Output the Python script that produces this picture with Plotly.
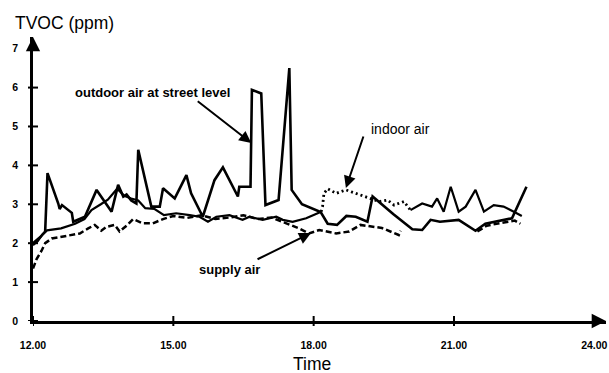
import plotly.graph_objects as go

# ---------------- data ----------------
outdoor_time = [12.00, 12.15, 12.26, 12.31, 12.54, 12.57, 12.62, 12.83, 12.86, 13.11,
                13.36, 13.68, 13.82, 13.93, 14.00, 14.10, 14.21, 14.25, 14.53, 14.71,
                14.78, 15.03, 15.28, 15.38, 15.63, 15.88, 16.06, 16.38, 16.41, 16.65,
                16.68, 16.88, 16.97, 17.25, 17.48, 17.53, 17.75, 18.15, 18.30, 18.50,
                18.70, 18.90, 19.15, 19.26, 19.70, 20.11, 20.32, 20.50, 20.70, 21.10,
                21.46, 21.67, 22.24, 22.55]
outdoor_tvoc = [2.00, 2.15, 2.30, 3.80, 3.02, 2.88, 2.98, 2.78, 2.55, 2.68,
                3.37, 2.81, 3.50, 3.20, 3.25, 3.10, 3.02, 4.40, 2.94, 2.94,
                3.41, 3.15, 3.75, 3.28, 2.68, 3.62, 3.95, 3.20, 3.45, 3.45,
                5.94, 5.85, 2.98, 3.11, 6.50, 3.37, 3.00, 2.80, 2.50, 2.47,
                2.70, 2.68, 2.55, 3.20, 2.75, 2.36, 2.34, 2.60, 2.55, 2.60,
                2.32, 2.50, 2.64, 3.45]

indoor_time = [12.00, 12.10, 12.20, 12.30, 12.60, 12.90, 13.10, 13.25, 13.45, 13.60,
               13.80, 13.95, 14.10, 14.25, 14.40, 14.60, 14.80, 15.06, 15.35, 15.56,
               15.74, 15.92, 16.20, 16.48, 16.63, 16.91, 17.20, 17.34, 17.55, 17.84,
               18.16, 18.19, 18.22, 18.30, 18.48, 18.69, 18.90, 19.22, 19.40, 19.58,
               19.72, 19.93, 20.07, 20.32, 20.53, 20.64, 20.78, 20.93, 21.10, 21.25,
               21.46, 21.64, 21.85, 22.06, 22.28, 22.45]
indoor_tvoc = [1.95, 2.05, 2.22, 2.33, 2.38, 2.50, 2.62, 2.85, 3.00, 3.12,
               3.40, 3.22, 3.15, 3.10, 2.90, 2.88, 2.72, 2.77, 2.72, 2.68,
               2.55, 2.68, 2.72, 2.60, 2.68, 2.60, 2.68, 2.60, 2.55, 2.64,
               2.81, 2.94, 3.28, 3.40, 3.28, 3.37, 3.28, 3.15, 3.07, 3.11,
               2.98, 3.07, 2.85, 3.02, 2.94, 3.15, 2.81, 3.45, 2.81, 2.94,
               3.37, 2.81, 2.98, 2.94, 2.81, 2.70]
indoor_dotted_from = 18.16
indoor_dotted_to = 20.07

supply_time = [12.00, 12.08, 12.18, 12.26, 12.40, 12.65, 12.82, 13.00, 13.18, 13.32,
               13.46, 13.57, 13.75, 13.85, 14.00, 14.14, 14.35, 14.56, 14.78, 15.00,
               15.30, 15.60, 15.90, 16.20, 16.50, 16.80, 17.10, 17.34, 17.69, 17.90,
               18.12, 18.48, 18.76, 19.00, 19.22, 19.46, 19.82, 19.86, None,
               21.50, 21.70, 22.00, 22.30, 22.42]
supply_tvoc = [1.35, 1.60, 1.80, 2.00, 2.12, 2.17, 2.21, 2.25, 2.38, 2.47,
               2.32, 2.42, 2.47, 2.30, 2.45, 2.62, 2.51, 2.51, 2.62, 2.70,
               2.65, 2.72, 2.62, 2.66, 2.72, 2.62, 2.66, 2.55, 2.38, 2.25,
               2.34, 2.25, 2.30, 2.47, 2.43, 2.39, 2.21, 2.32, None,
               2.30, 2.45, 2.52, 2.58, 2.50]

x_ticks = [12, 15, 18, 21, 24]
x_tick_labels = ["12.00", "15.00", "18.00", "21.00", "24.00"]
y_ticks = [0, 1, 2, 3, 4, 5, 6, 7]

# ---------------- layout geometry ----------------
W, H = 609, 373
L, R, T, B = 33, 1, 37, 52
PW, PH = W - L - R, H - T - B
FONT = "Liberation Sans, Arial, Helvetica, sans-serif"


def px_x(px):
    return (px - L) / PW


def px_y(py):
    return (H - B - py) / PH


fig = go.Figure()

fig.add_trace(go.Scatter(x=outdoor_time, y=outdoor_tvoc, mode="lines",
                         line=dict(color="black", width=2.6), showlegend=False))

i1 = [i for i, t in enumerate(indoor_time) if t <= indoor_dotted_from][-1]
i2 = [i for i, t in enumerate(indoor_time) if t <= indoor_dotted_to][-1]
fig.add_trace(go.Scatter(x=indoor_time[:i1 + 1], y=indoor_tvoc[:i1 + 1], mode="lines",
                         line=dict(color="black", width=2.2), showlegend=False))
fig.add_trace(go.Scatter(x=indoor_time[i1:i2 + 1], y=indoor_tvoc[i1:i2 + 1], mode="lines",
                         line=dict(color="black", width=2.8, dash="2px,3px"), showlegend=False))
fig.add_trace(go.Scatter(x=indoor_time[i2:], y=indoor_tvoc[i2:], mode="lines",
                         line=dict(color="black", width=2.2), showlegend=False))

fig.add_trace(go.Scatter(x=supply_time, y=supply_tvoc, mode="lines",
                         line=dict(color="black", width=2.5, dash="6px,3px"),
                         connectgaps=False, showlegend=False))

shapes = []
for v in y_ticks:
    shapes.append(dict(type="line", xref="paper", yref="y", xsizemode="pixel",
                       xanchor=0, x0=-5, x1=5, y0=v, y1=v,
                       line=dict(color="black", width=2)))
for v in x_ticks:
    shapes.append(dict(type="line", xref="x", yref="paper", ysizemode="pixel",
                       yanchor=0, y0=-5, y1=5, x0=v, x1=v,
                       line=dict(color="black", width=2)))

ann = []
# axis arrowheads
ann.append(dict(xref="paper", yref="paper", x=0, y=1, ax=0, ay=12, text="",
                showarrow=True, arrowhead=2, arrowsize=1.3, arrowwidth=2.2, arrowcolor="black"))
ann.append(dict(xref="paper", yref="paper", x=1, y=0, ax=-12, ay=0, text="",
                showarrow=True, arrowhead=2, arrowsize=1.3, arrowwidth=2.2, arrowcolor="black"))
# titles
ann.append(dict(xref="paper", yref="paper", x=px_x(13), y=px_y(23), xanchor="left",
                yanchor="middle", text="TVOC (ppm)", showarrow=False,
                font=dict(family=FONT, size=17.5, color="black")))
ann.append(dict(xref="paper", yref="paper", x=px_x(313), y=px_y(364), xanchor="center",
                yanchor="middle", text="Time", showarrow=False,
                font=dict(family=FONT, size=17.5, color="black")))
# series labels
ann.append(dict(xref="paper", yref="paper", x=px_x(153), y=px_y(93), xanchor="center",
                yanchor="middle", text="outdoor air at street level", showarrow=False,
                font=dict(family=FONT, size=13, color="black", weight="bold")))
ann.append(dict(xref="paper", yref="paper", x=px_x(402), y=px_y(129), xanchor="center",
                yanchor="middle", text="indoor air", showarrow=False,
                font=dict(family=FONT, size=14, color="black")))
ann.append(dict(xref="paper", yref="paper", x=px_x(230), y=px_y(269), xanchor="center",
                yanchor="middle", text="supply air", showarrow=False,
                font=dict(family=FONT, size=13, color="black", weight="bold")))
# pointer arrows
for tip, tail in [((252, 143), (197, 100)), ((347, 188), (365, 135)), ((312, 233), (257, 260))]:
    ann.append(dict(xref="paper", yref="paper", x=px_x(tip[0]), y=px_y(tip[1]),
                    ax=tail[0] - tip[0], ay=tail[1] - tip[1], text="",
                    showarrow=True, arrowhead=2, arrowsize=1.2, arrowwidth=2,
                    arrowcolor="black"))

fig.update_layout(
    width=W, height=H,
    margin=dict(l=L, r=R, t=T, b=B, pad=0),
    paper_bgcolor="white", plot_bgcolor="white",
    shapes=shapes, annotations=ann,
    xaxis=dict(range=[12, 24.25], tickvals=x_ticks, ticktext=x_tick_labels,
               showgrid=False, zeroline=False, showline=True, linecolor="black",
               linewidth=2.5, ticks="", ticklabelstandoff=13, ticklabeloverflow="allow",
               tickfont=dict(family=FONT, size=10.5, color="black", weight="bold")),
    yaxis=dict(range=[0, 7.3], tickvals=y_ticks, showgrid=False, zeroline=False,
               showline=True, linecolor="black", linewidth=2.5, ticks="",
               ticklabelstandoff=10,
               tickfont=dict(family=FONT, size=10.5, color="black", weight="bold")),
)

fig.write_html("out.html")
